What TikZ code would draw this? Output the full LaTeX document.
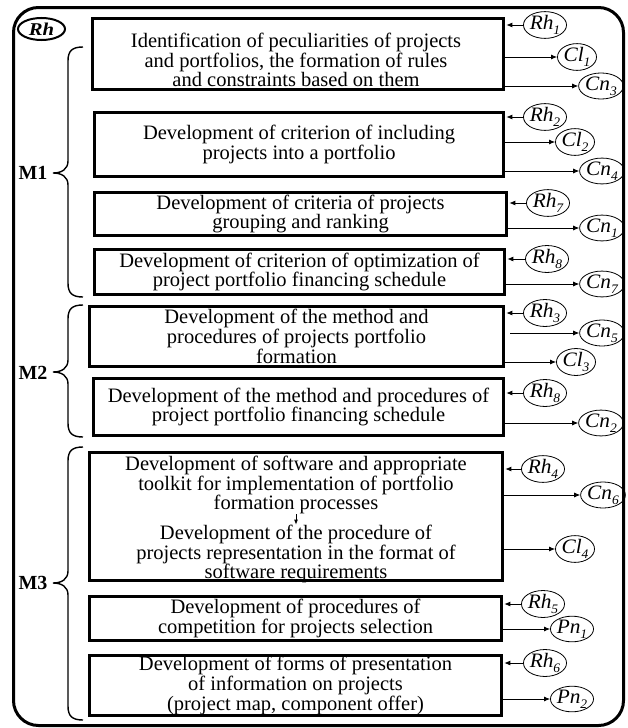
\documentclass[tikz,border=0pt]{standalone}
\usepackage{fontspec}
\setmainfont{Liberation Serif}
\newfontfamily\labfont{Liberation Serif}[FakeStretch=1.04]
\newfontfamily\rhfont{Liberation Serif}[FakeStretch=1.15]
\usetikzlibrary{arrows.meta,shapes.geometric,calc}
\newcommand{\bodysize}{\fontsize{20.5}{17}\selectfont}
\newcommand{\labsize}{\labfont\fontsize{20.5}{20.5}\selectfont\itshape}
\newcommand{\lbl}[2]{#1\raisebox{-0.5ex}{\fontsize{13}{13}\selectfont\itshape #2}}
\newcommand{\mybrace}[3]{%
  \draw[line width=1.4pt] (83,#1) .. controls (72,#1) and (68,#1+4) .. (68,#1+14)
    -- (68,#2-12) .. controls (68,#2-4) and (62,#2) .. (53,#2)
    .. controls (62,#2) and (68,#2+4) .. (68,#2+12)
    -- (68,#3-14) .. controls (68,#3-4) and (72,#3) .. (83,#3);}
\begin{document}
\begin{tikzpicture}[x=1pt,y=-1pt,
  box/.style={draw, line width=2.6pt, inner sep=0pt, align=center, font=\bodysize},
  txt/.style={inner sep=0pt, align=center, font=\bodysize},
  lab/.style={draw, ellipse, line width=0.8pt, inner sep=0pt, minimum width=39pt, minimum height=23pt, font=\labsize},
  cn/.style={lab, minimum width=36pt},
  arr/.style={-{Latex[length=6pt,width=5pt]}, line width=0.8pt},
  mlab/.style={inner sep=0pt, font=\fontsize{20}{20}\selectfont\bfseries}]
\useasboundingbox (0,0) rectangle (628,728);
\draw[line width=3pt, rounded corners=25pt] (13.5,7.5) rectangle (623.5,725.5);
\node[draw, ellipse, line width=2pt, minimum width=47pt, minimum height=22pt, inner sep=0pt,
  font=\rhfont\fontsize{18}{18}\selectfont\bfseries\itshape] (rh) at (41.5,29) {Rh};

% boxes
\node[box, minimum width=411.5pt, minimum height=71.5pt] (b1) at (298,54) {};
\node[txt] (t1) at (296,60)
  {Identification of peculiarities of projects\\and portfolios, the formation of rules\\and constraints based on them};
\node[box, minimum width=409.5pt, minimum height=64.5pt] (b2) at (299,144.5)
  {Development of criterion of including\\projects into a portfolio};
\node[box, minimum width=412.5pt, minimum height=43.5pt] (b3) at (300.5,214)
  {Development of criteria of projects\\grouping and ranking};
\node[box, minimum width=410.5pt, minimum height=45.5pt] (b4) at (299.5,272)
  {Development of criterion of optimization of\\project portfolio financing schedule};
\node[box, minimum width=414.5pt, minimum height=60.5pt] (b5) at (296.5,336.5)
  {Development of the method and\\procedures of projects portfolio\\formation};
\node[box, minimum width=410.5pt, minimum height=57.5pt] (b6) at (298.5,407)
  {Development of the method and procedures of\\project portfolio financing schedule};
\node[box, minimum width=413.5pt, minimum height=128.5pt] (b7) at (296,516.5) {};
\node[txt] (t7a) at (296,485)
  {Development of software and appropriate\\toolkit for implementation of portfolio\\formation processes};
\node[txt] (t7b) at (296,554)
  {Development of the procedure of\\projects representation in the format of\\software requirements};
\node[box, minimum width=412.5pt, minimum height=44.5pt] (b8) at (295.5,618.5)
  {Development of procedures of\\competition for projects selection};
\node[box, minimum width=412.5pt, minimum height=60.5pt] (b9) at (295.5,685.5)
  {Development of forms of presentation\\of information on projects\\(project map, component offer)};
\draw[-{Latex[length=5pt,width=4pt]}, line width=0.8pt] (t7a.south) -- (t7b.north);

% braces and labels
\mybrace{47}{173}{297}
\mybrace{305}{372}{437}
\mybrace{447}{583}{720}
\node[mlab] (m1) at (33,173) {M1};
\node[mlab] (m2) at (33,373) {M2};
\node[mlab] (m3) at (33,583) {M3};

% right side ellipses
\node[lab] (rh1) at (545,25) {\lbl{Rh}{1}};
\node[lab] (cl1) at (577,57) {\lbl{Cl}{1}};
\node[cn]  (cn3) at (601,86) {\lbl{Cn}{3}};
\node[lab] (rh2) at (545,117) {\lbl{Rh}{2}};
\node[lab] (cl2) at (575,142) {\lbl{Cl}{2}};
\node[cn]  (cn4) at (602,171) {\lbl{Cn}{4}};
\node[lab] (rh7) at (548,203) {\lbl{Rh}{7}};
\node[cn]  (cn1) at (602,228) {\lbl{Cn}{1}};
\node[lab] (rh8a) at (547,259) {\lbl{Rh}{8}};
\node[cn]  (cn7) at (602,284) {\lbl{Cn}{7}};
\node[lab] (rh3) at (545,313) {\lbl{Rh}{3}};
\node[cn]  (cn5) at (602,333) {\lbl{Cn}{5}};
\node[lab] (cl3) at (576,362) {\lbl{Cl}{3}};
\node[lab] (rh8b) at (545,393) {\lbl{Rh}{8}};
\node[cn]  (cn2) at (601,423) {\lbl{Cn}{2}};
\node[lab] (rh4) at (543,469) {\lbl{Rh}{4}};
\node[cn]  (cn6) at (603,495) {\lbl{Cn}{6}};
\node[lab] (cl4) at (575,549) {\lbl{Cl}{4}};
\node[lab] (rh5) at (543,604) {\lbl{Rh}{5}};
\node[lab] (pn1) at (572,629) {\lbl{Pn}{1}};
\node[lab] (rh6) at (545,663) {\lbl{Rh}{6}};
\node[lab] (pn2) at (572,699) {\lbl{Pn}{2}};

% arrows into boxes
\foreach \r/\b in {rh1/b1, rh2/b2, rh7/b3, rh8a/b4, rh3/b5, rh8b/b6, rh4/b7, rh5/b8, rh6/b9}
  \draw[arr] (\r) -- ($(\b.east |- \r)+(1.3,0)$);
% arrows out of boxes
\foreach \b/\o in {b1/cl1, b1/cn3, b2/cl2, b2/cn4, b3/cn1, b4/cn7, b5/cl3, b6/cn2, b7/cn6, b7/cl4, b8/pn1, b9/pn2}
  \draw[arr] (\b.east |- \o) -- (\o);
\draw[arr] ($(b5.east |- cn5)+(5,0)$) -- (cn5);
\end{tikzpicture}
\end{document}
